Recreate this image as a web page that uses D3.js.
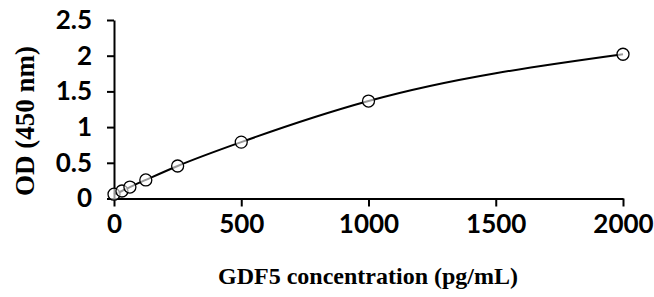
<!DOCTYPE html>
<html>
<head>
<style>
body { margin:0; background:#fff; }
.axis path, .axis line { stroke:#000; stroke-width:2px; }
.axis text { font-family: Lato, "Open Sans", sans-serif; font-weight:bold; font-size:26px; fill:#000; }
.title { font-family: "Liberation Serif", "DejaVu Serif", serif; font-weight:bold; fill:#000; }
</style>
</head>
<body>
<svg id="chart" width="654" height="297"></svg>
<script src="https://d3js.org/d3.v7.min.js"></script>
<script>

// standard concentrations (pg/mL) and measured OD
let conc = [0, 31.25, 62.5, 125, 250, 500, 1000, 2000];
let od   = [0.06, 0.105, 0.16, 0.26, 0.455, 0.79, 1.365, 2.02];
let xTicks = [0, 500, 1000, 1500, 2000];
let yTicks = [0, 0.5, 1, 1.5, 2, 2.5];

let data = conc.map(function(c, i) { return {x: c, y: od[i]}; });

let svg = d3.select("#chart");

let x = d3.scaleLinear().domain([0, 2000]).range([114, 623]),
    y = d3.scaleLinear().domain([0, 2.5]).range([198.5, 20]);

let xAxis = d3.axisBottom(x).tickValues(xTicks).tickSize(8).tickPadding(8).tickSizeOuter(0)
    .tickFormat(d3.format("d"));
let yAxis = d3.axisLeft(y).tickValues(yTicks).tickSize(7).tickPadding(15).tickSizeOuter(0)
    .tickFormat(function(d) { return d; });

svg.append("g")
    .attr("class", "axis")
    .attr("transform", "translate(0," + y(0) + ")")
    .call(xAxis);

svg.append("g")
    .attr("class", "axis")
    .attr("transform", "translate(" + x(0) + ",0)")
    .call(yAxis);

// trend curve
let line = d3.line()
    .x(function(d) { return x(d.x); })
    .y(function(d) { return y(d.y); })
    .curve(d3.curveMonotoneX);

svg.append("path")
    .datum(data)
    .attr("d", line)
    .attr("fill", "none")
    .attr("stroke", "#000")
    .attr("stroke-width", 2);

svg.selectAll(".pt")
    .data(data)
  .enter().append("circle")
    .attr("class", "pt")
    .attr("cx", function(d) { return x(d.x); })
    .attr("cy", function(d) { return y(d.y); })
    .attr("r", 6)
    .attr("fill", "#fff")
    .attr("fill-opacity", 0.6)
    .attr("stroke", "#000")
    .attr("stroke-width", 1.3);

// axis titles
svg.append("text")
    .attr("class", "title")
    .attr("x", 368)
    .attr("y", 284)
    .attr("text-anchor", "middle")
    .style("font-size", "24px")
    .text("GDF5 concentration (pg/mL)");

svg.append("text")
    .attr("class", "title")
    .attr("transform", "translate(34,121) rotate(-90)")
    .attr("text-anchor", "middle")
    .style("font-size", "27px")
    .text("OD (450 nm)");

</script>
</body>
</html>
